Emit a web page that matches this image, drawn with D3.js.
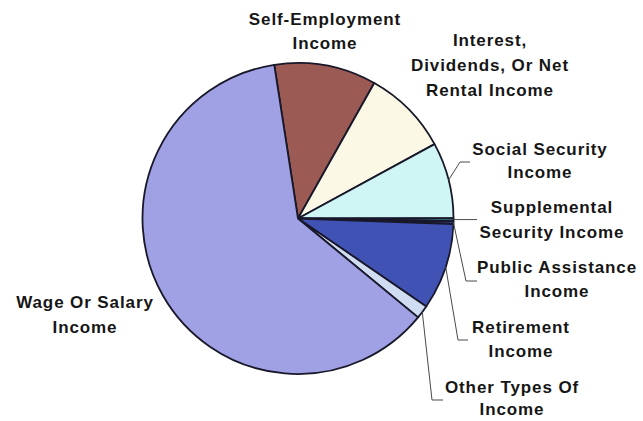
<!DOCTYPE html>
<html>
<head>
<meta charset="utf-8">
<script src="https://cdn.jsdelivr.net/npm/d3@7"></script>
<style>
  html, body { margin: 0; padding: 0; background: #fff; }
  svg { display: block; }
</style>
</head>
<body>
<svg id="chart" width="643" height="421"></svg>
<script>
// Income sources, in clockwise order starting from Self-Employment
const categories = [
  "Self-Employment Income",
  "Interest, Dividends, Or Net Rental Income",
  "Social Security Income",
  "Supplemental Security Income",
  "Public Assistance Income",
  "Retirement Income",
  "Other Types Of Income",
  "Wage Or Salary Income"
];
// Share of total (%)
const shares = [10.6, 8.9, 7.9, 0.3, 0.3, 9.0, 1.4, 61.6];
const sliceColors = ["#9c5a55", "#fbf9e6", "#cff5f5", "#3a7f8c", "#3b3f8f", "#4152b5", "#cfdcf2", "#a0a0e4"];
// Label text, one entry per line
const labelLines = [
  ["Self-Employment", "Income"],
  ["Interest,", "Dividends, Or Net", "Rental Income"],
  ["Social Security", "Income"],
  ["Supplemental", "Security Income"],
  ["Public Assistance", "Income"],
  ["Retirement", "Income"],
  ["Other Types Of", "Income"],
  ["Wage Or Salary", "Income"]
];

const svg = d3.select("#chart");
const cx = 298, cy = 218.5, radius = 155.5;
const startDeg = -8.78;

// Label anchor (center x, first baseline, line step) and leader elbow/end
const labelLayout = [
  { x: 325, y: 25, step: 24 },
  { x: 490, y: 46, step: 25 },
  { x: 540, y: 155, step: 23, elbow: [460, 162], end: [470, 162] },
  { x: 552, y: 213, step: 25, elbow: null, end: [477, null] },
  { x: 557, y: 273, step: 24, elbow: [466, 281], end: [477, 281] },
  { x: 521, y: 333, step: 24, elbow: [458, 340], end: [468, 340] },
  { x: 512, y: 393, step: 22, elbow: [432, 400], end: [443, 400] },
  { x: 85, y: 308, step: 25 }
];

const pie = d3.pie()
  .value(d => d)
  .sort(null)
  .startAngle(startDeg * Math.PI / 180)
  .endAngle((startDeg + 360) * Math.PI / 180);

const arcs = pie(shares);
const arc = d3.arc().innerRadius(0).outerRadius(radius);

const g = svg.append("g").attr("transform", `translate(${cx},${cy})`);

g.selectAll("path.slice")
  .data(arcs)
  .join("path")
  .attr("class", "slice")
  .attr("d", arc)
  .attr("fill", (d, i) => sliceColors[i])
  .attr("stroke", "#18182a")
  .attr("stroke-width", 1.8)
  .attr("stroke-linejoin", "round");

// Leader lines from the slice rim to the labels
const leaders = svg.append("g")
  .attr("fill", "none")
  .attr("stroke", "#4a4a4a")
  .attr("stroke-width", 1);

arcs.forEach((d, i) => {
  const lay = labelLayout[i];
  if (!lay.end) return;
  const mid = (d.startAngle + d.endAngle) / 2;
  const sx = cx + radius * Math.sin(mid);
  const sy = cy - radius * Math.cos(mid);
  const pts = [[sx, sy]];
  if (lay.elbow) pts.push(lay.elbow);
  pts.push([lay.end[0], lay.end[1] == null ? sy : lay.end[1]]);
  leaders.append("path").attr("d", d3.line()(pts));
});

// Category labels
const labels = svg.append("g")
  .attr("font-family", "'Liberation Sans', Arial, Helvetica, sans-serif")
  .attr("font-weight", "bold")
  .attr("font-size", 17)
  .attr("letter-spacing", 0.9)
  .attr("fill", "#161616")
  .attr("text-anchor", "middle");

labelLines.forEach((lines, i) => {
  const lay = labelLayout[i];
  const t = labels.append("text").attr("y", lay.y);
  lines.forEach((line, k) => {
    t.append("tspan")
      .attr("x", lay.x)
      .attr("y", lay.y + k * lay.step)
      .text(line);
  });
});
</script>
</body>
</html>
